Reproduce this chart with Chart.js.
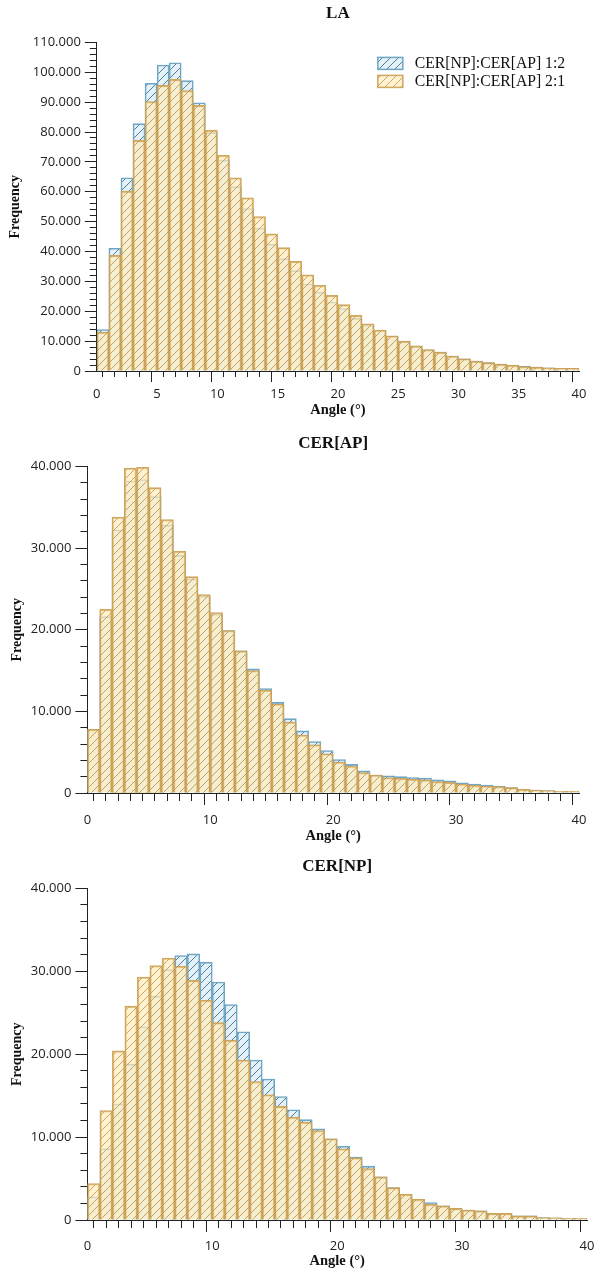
<!DOCTYPE html>
<html>
<head>
<meta charset="utf-8">
<script src="https://cdn.jsdelivr.net/npm/chart.js@4.4.1/dist/chart.umd.min.js"></script>
<style>
    html, body { margin: 0; padding: 0; background: #fff; overflow: hidden; }
    #page { position: relative; width: 595px; height: 1272px; overflow: hidden; }
    canvas { position: absolute; left: 0; }
</style>
</head>
<body>
<div id="page">
    <canvas id="chartLA" width="595" height="421" style="top:0px"></canvas>
    <canvas id="chartAP" width="595" height="427" style="top:420px"></canvas>
    <canvas id="chartNP" width="595" height="432" style="top:840px"></canvas>
</div>
<script>
// Bin start angles (1 degree bins, 0..40)
const angleBins = [0, 1, 2, 3, 4, 5, 6, 7, 8, 9, 10, 11, 12, 13, 14, 15, 16, 17, 18, 19,
    20, 21, 22, 23, 24, 25, 26, 27, 28, 29, 30, 31, 32, 33, 34, 35, 36, 37, 38, 39];

const seriesNames = ['CER[NP]:CER[AP] 1:2', 'CER[NP]:CER[AP] 2:1'];

// LA panel
const laRatio12 = [13900, 41100, 64700, 82800, 96300, 102400, 103200, 97200, 89800, 79800,
    70600, 61700, 54400, 47800, 42400, 37600, 33600, 29100, 26400, 23100,
    20900, 17600, 15300, 13500, 11600, 9900, 8300, 7100, 6300, 5000,
    4100, 3300, 2800, 2300, 2000, 1600, 1300, 1100, 900, 900];
const laRatio21 = [13000, 38700, 60200, 77200, 90200, 95600, 97600, 93900, 88900, 80600,
    72200, 64700, 58000, 51700, 45900, 41300, 36700, 32200, 28700, 25300,
    22200, 18600, 15800, 13700, 11800, 10000, 8400, 7200, 6300, 5000,
    4100, 3300, 2800, 2300, 1900, 1500, 1300, 1100, 900, 900];

// CER[AP] panel
const apRatio12 = [7800, 21600, 32200, 38200, 38400, 36300, 32800, 29100, 26200, 24100,
    21900, 19900, 17400, 15200, 12800, 11100, 9100, 7600, 6300, 5200,
    4100, 3500, 2700, 2200, 2100, 2000, 1900, 1800, 1600, 1500,
    1260, 1100, 980, 850, 650, 450, 370, 300, 200, 200];
const apRatio21 = [7800, 22500, 33800, 39800, 39900, 37400, 33500, 29600, 26500, 24300,
    22100, 19900, 17400, 15000, 12600, 10900, 8700, 7100, 5900, 4800,
    3800, 3300, 2500, 2200, 1900, 1800, 1700, 1600, 1400, 1300,
    1100, 950, 850, 800, 650, 450, 370, 300, 200, 200];

// CER[NP] panel
const npRatio12 = [2800, 8600, 14000, 18800, 23300, 27000, 30200, 31900, 32100, 31100,
    28700, 26000, 22700, 19300, 17000, 14900, 13300, 12100, 11000, 9800,
    8900, 7600, 6500, 5200, 3900, 3100, 2500, 2100, 1700, 1400,
    1200, 1100, 800, 800, 500, 500, 300, 250, 200, 200];
const npRatio21 = [4400, 13200, 20400, 25800, 29300, 30700, 31600, 30600, 28900, 26500,
    23800, 21700, 19300, 16700, 15100, 13700, 12400, 11800, 10800, 9800,
    8600, 7500, 6200, 5200, 3900, 3100, 2500, 1900, 1700, 1400,
    1200, 1100, 800, 800, 500, 500, 300, 250, 200, 200];

const serifFont = '"Liberation Serif", "Times New Roman", serif';
const tickFont = { family: '"Open Sans", sans-serif', size: 13 };

// Diagonal hatch fill
function makeHatch(bg, line) {
    const c = document.createElement('canvas');
    c.width = 8;
    c.height = 8;
    const g = c.getContext('2d');
    g.fillStyle = bg;
    g.fillRect(0, 0, 8, 8);
    g.strokeStyle = line;
    g.lineWidth = 1;
    g.beginPath();
    g.moveTo(0, 8); g.lineTo(8, 0);
    g.moveTo(-1, 1); g.lineTo(1, -1);
    g.moveTo(7, 9); g.lineTo(9, 7);
    g.stroke();
    return g.createPattern(c, 'repeat');
}

const blueHatch = makeHatch('#e4f1f8', '#4f7f98');
const orangeHatch = makeHatch('rgba(255, 236, 188, 0.68)', 'rgba(198, 158, 82, 0.9)');
const blueBorder = '#6fa6c4';
const orangeBorder = 'rgba(206, 162, 86, 0.95)';

// Thousands separator with a dot, as in the source figure
function fmt(v) {
    return String(v).replace(/\B(?=(\d{3})+(?!\d))/g, '.');
}

// Legend inside the plot area (LA panel only)
const insideLegend = {
    id: 'insideLegend',
    afterDraw(chart) {
        const ctx = chart.ctx;
        const area = chart.chartArea;
        const x0 = area.left + 281;
        const y0 = area.top + 15;
        chart.data.datasets.forEach((ds, i) => {
            const y = y0 + i * 18;
            ctx.save();
            ctx.fillStyle = '#fff';
            ctx.fillRect(x0, y, 25, 12);
            ctx.fillStyle = ds.backgroundColor;
            ctx.fillRect(x0, y, 25, 12);
            ctx.strokeStyle = ds.borderColor;
            ctx.lineWidth = 1.5;
            ctx.strokeRect(x0, y, 25, 12);
            ctx.fillStyle = '#111';
            ctx.font = '15.7px ' + serifFont;
            ctx.textBaseline = 'middle';
            ctx.fillText(ds.label, x0 + 37, y + 6.5);
            ctx.restore();
        });
    }
};

function makeChart(id, cfg) {
    const ctx = document.getElementById(id).getContext('2d');
    const toPoints = arr => arr.map((v, i) => ({ x: angleBins[i] + 0.5, y: v }));

    return new Chart(ctx, {
        type: 'bar',
        data: {
            datasets: [
                {
                    label: seriesNames[0],
                    data: toPoints(cfg.blue),
                    backgroundColor: blueHatch,
                    borderColor: blueBorder,
                    borderWidth: 1.6,
                    order: 2
                },
                {
                    label: seriesNames[1],
                    data: toPoints(cfg.orange),
                    backgroundColor: orangeHatch,
                    borderColor: orangeBorder,
                    borderWidth: 1.6,
                    order: 1
                }
            ]
        },
        options: {
            responsive: false,
            animation: false,
            events: [],
            grouped: false,
            barPercentage: 1,
            categoryPercentage: 1,
            layout: {
                padding: { left: cfg.padLeft, right: cfg.padRight, top: cfg.padTop, bottom: 0 }
            },
            scales: {
                x: {
                    type: 'linear',
                    min: 0,
                    max: 40,
                    offset: false,
                    // let the layout padding alone decide the right margin
                    afterFit: scale => { scale.paddingRight = 0; },
                    ticks: {
                        stepSize: 1,
                        autoSkip: false,
                        maxRotation: 0,
                        minRotation: 0,
                        padding: cfg.xTickPad,
                        color: '#222',
                        font: tickFont,
                        callback: v => (v % cfg.xMajor === 0 ? String(v) : '')
                    },
                    grid: {
                        drawOnChartArea: false,
                        tickLength: cfg.xTickLen,
                        tickColor: '#222',
                        tickBorderDash: c => (c.tick && c.tick.value % cfg.xMajor === 0 ? [] : [cfg.xMinor, 40])
                    },
                    border: { color: '#222', width: 1 },
                    title: {
                        display: true,
                        text: 'Angle (°)',
                        color: '#111',
                        font: { family: serifFont, size: 14.5, weight: 'bold' },
                        padding: { top: cfg.xTitlePad, bottom: 2 }
                    }
                },
                y: {
                    min: 0,
                    max: cfg.yMax,
                    ticks: {
                        stepSize: 2000,
                        autoSkip: false,
                        padding: 4,
                        color: '#222',
                        font: tickFont,
                        callback: v => (v % 10000 === 0 ? fmt(v) : '')
                    },
                    grid: {
                        drawOnChartArea: false,
                        tickLength: 12,
                        tickColor: '#222',
                        // ticks are drawn from the outer end: skip 5px, draw 7px to the axis
                        tickBorderDash: c => (c.tick && c.tick.value % 10000 === 0 ? [] : [0, 5, 7, 40])
                    },
                    border: { color: '#222', width: 1 },
                    title: {
                        display: true,
                        text: 'Frequency',
                        color: '#111',
                        font: { family: serifFont, size: 14, weight: 'bold' },
                        padding: { top: 2, bottom: cfg.yTitlePad }
                    }
                },
                // top axis only carries the panel title, centred over the plot
                top: {
                    type: 'linear',
                    position: 'top',
                    grid: { display: false },
                    border: { display: false },
                    ticks: { display: false },
                    title: {
                        display: true,
                        text: cfg.title,
                        color: '#111',
                        font: { family: serifFont, size: 17, weight: 'bold' },
                        padding: { top: 0, bottom: cfg.titleGap }
                    }
                }
            },
            plugins: {
                legend: { display: false },
                title: { display: false },
                tooltip: { enabled: false }
            }
        },
        plugins: cfg.legend ? [insideLegend] : []
    });
}

makeChart('chartLA', {
    title: 'LA', blue: laRatio12, orange: laRatio21, yMax: 110000, xMajor: 5,
    padLeft: 5, padRight: 16, padTop: 3, titleGap: 11,
    xTickLen: 11, xMinor: 5, xTickPad: 4, xTitlePad: -4, yTitlePad: 5,
    legend: true
});
makeChart('chartAP', {
    title: 'CER[AP]', blue: apRatio12, orange: apRatio21, yMax: 40000, xMajor: 10,
    padLeft: 7, padRight: 16, padTop: 13, titleGap: 5,
    xTickLen: 12, xMinor: 7, xTickPad: 7, xTitlePad: -7, yTitlePad: 1,
    legend: false
});
makeChart('chartNP', {
    title: 'CER[NP]', blue: npRatio12, orange: npRatio21, yMax: 40000, xMajor: 10,
    padLeft: 7, padRight: 8, padTop: 16, titleGap: 4,
    xTickLen: 12, xMinor: 7, xTickPad: 6, xTitlePad: -7, yTitlePad: 1,
    legend: false
});
</script>
</body>
</html>
